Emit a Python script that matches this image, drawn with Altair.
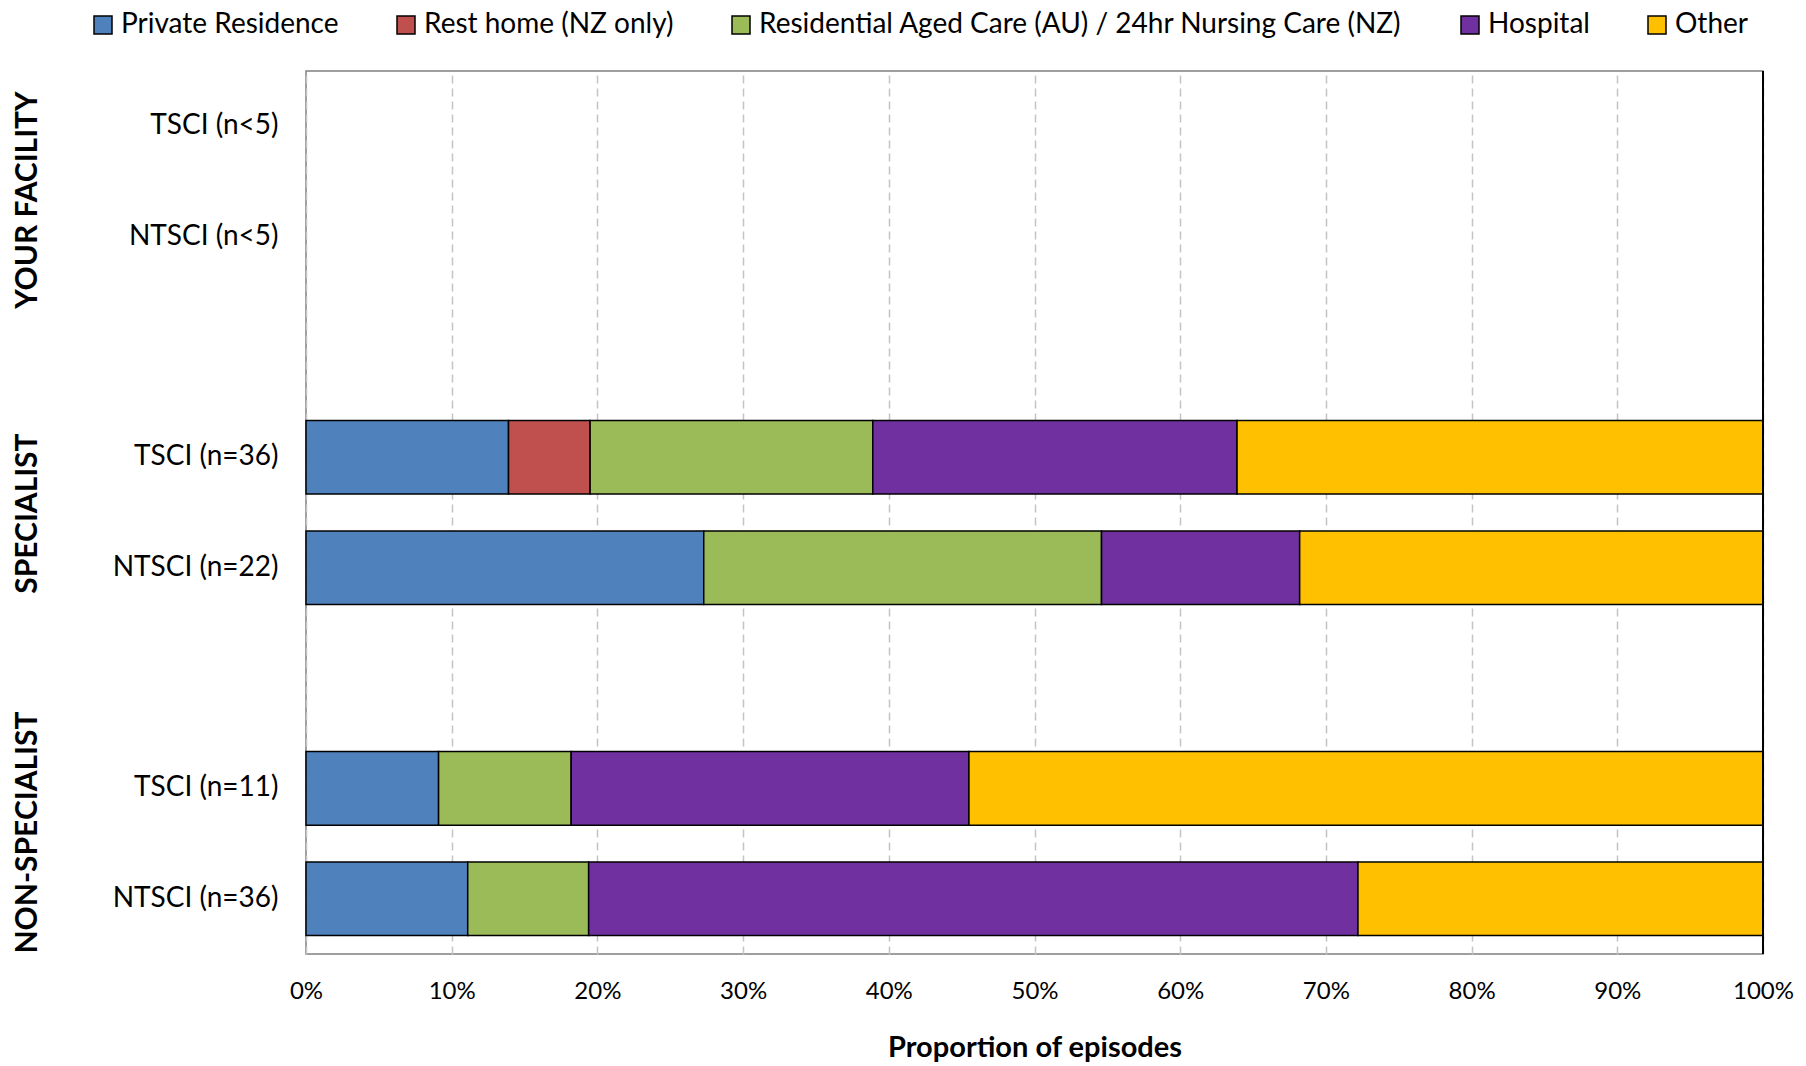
import altair as alt
import pandas as pd

# ---- data ----
row_order = ["TSCI (n<5)", "NTSCI (n<5)", " ", "TSCI (n=36)", "NTSCI (n=22)", "  ", "TSCI (n=11)", "NTSCI (n=36)"]
bar_rows = ["TSCI (n=36)", "NTSCI (n=22)", "TSCI (n=11)", "NTSCI (n=36)"]
categories = ["Private Residence", "Rest home (NZ only)",
              "Residential Aged Care (AU) / 24hr Nursing Care (NZ)", "Hospital", "Other"]
colors = ["#4F81BD", "#C0504D", "#9BBB59", "#7030A0", "#FFC000"]
private_res = [13.9, 27.3, 9.1, 11.1]
rest_home = [5.6, 0.0, 0.0, 0.0]
residential = [19.4, 27.3, 9.1, 8.3]
hospital = [25.0, 13.6, 27.3, 52.8]
other = [36.1, 31.8, 54.5, 27.8]

group_labels = ["YOUR FACILITY", "SPECIALIST", "NON-SPECIALIST"]
group_pos = [1.17, 4.01, 6.90]  # in row-slot units from the top

series = [private_res, rest_home, residential, hospital, other]
recs = []
for ci, (cat, vals) in enumerate(zip(categories, series)):
    for r, v in zip(bar_rows, vals):
        if v > 0:
            recs.append({"row": r, "dest": cat, "value": v / 100.0, "order": ci})
df = pd.DataFrame(recs)
gdf = pd.DataFrame({"label": group_labels, "pos": group_pos})

FONT = "Lato"

bars = alt.Chart(df).mark_bar(stroke="black", strokeWidth=1.5).encode(
    x=alt.X("sum(value):Q", stack="zero",
            scale=alt.Scale(domain=[0, 1], nice=False),
            axis=alt.Axis(format=".0%", values=[i / 10 for i in range(11)],
                          title="Proportion of episodes", ticks=False, domain=False,
                          labelFlush=False,
                          grid=True, gridDash=[8, 5], gridColor="#c4c4c4", gridWidth=1.5,
                          labelFont=FONT, labelFontSize=24, labelColor="black",
                          labelPadding=25, titleFont=FONT, titleFontSize=29,
                          titleFontWeight="bold", titleColor="black", titlePadding=30)),
    y=alt.Y("row:N", sort=row_order,
            scale=alt.Scale(domain=row_order, paddingInner=0.333, paddingOuter=0.167),
            axis=alt.Axis(title=None, ticks=False, domain=False, labelFont=FONT,
                          labelFontSize=28, labelColor="black", labelPadding=28,
                          labelLimit=400)),
    color=alt.Color("dest:N", scale=alt.Scale(domain=categories, range=colors),
                    legend=alt.Legend(title=None, orient="none", legendX=-217, legendY=-60,
                                      direction="horizontal", columns=5,
                                      symbolType="square", symbolSize=324,
                                      symbolStrokeColor="black", symbolStrokeWidth=1.5,
                                      labelFont=FONT, labelFontSize=28, labelColor="black",
                                      labelLimit=1000, labelOffset=4, columnPadding=53)),
    order=alt.Order("order:Q"),
)

edge = alt.Chart(pd.DataFrame({"x": [1.0]})).mark_rule(color="black", strokeWidth=2).encode(
    x=alt.X("x:Q")
)

groups = alt.Chart(gdf).mark_text(angle=270, fontWeight="bold", font=FONT, fontSize=30,
                                  color="black", align="center", baseline="middle").encode(
    x=alt.value(-278),
    y=alt.Y("pos:Q", scale=alt.Scale(domain=[0, 8], reverse=True, nice=False), axis=None),
    text="label:N",
)

chart = alt.layer(bars, edge, groups).resolve_scale(y="independent").properties(
    width=1457, height=883,
    autosize=alt.AutoSizeParams(type="none"),
    padding={"left": 298, "top": 63, "right": 35, "bottom": 112},
).configure_view(stroke="#808080", strokeWidth=1.5)

chart.save("out.html", embed_options={"renderer": "svg", "actions": False})
